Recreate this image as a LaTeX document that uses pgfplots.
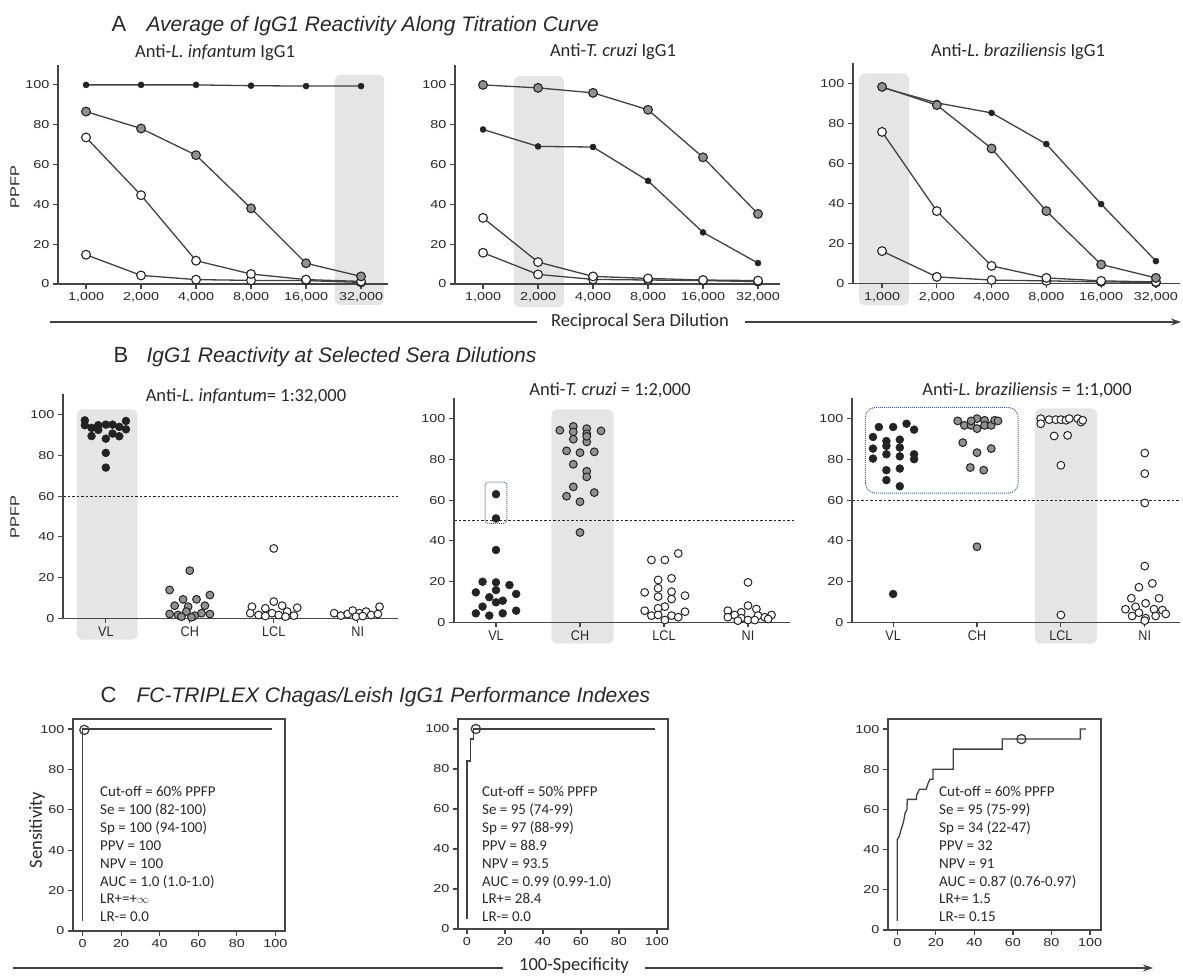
\documentclass[border=0pt]{standalone}
\usepackage{fontspec}
\setmainfont{Carlito}
\newfontfamily\arialf{Liberation Sans}
\newfontfamily\tickf[FakeStretch=1.25]{Liberation Sans}
\newfontfamily\catf[FakeStretch=0.9]{Liberation Sans}
\usepackage{pgfplots}
\pgfplotsset{compat=1.18}
\usetikzlibrary{arrows.meta}

\definecolor{axc}{RGB}{70,70,70}
\definecolor{lnc}{RGB}{65,65,65}
\definecolor{dk}{RGB}{35,35,35}
\definecolor{gr}{RGB}{145,145,145}
\definecolor{shd}{RGB}{229,229,229}
\definecolor{bl}{RGB}{70,100,140}
\definecolor{txt}{RGB}{40,40,40}

\newcommand{\tickfont}{\tickf\fontsize{11.5}{12}\selectfont}

\pgfplotsset{
 base/.style={axis on top, scale only axis, clip=false, tick align=outside, major tick length=5pt,
   axis line style={line width=1.3pt, draw=axc}, tick style={line width=1.2pt, draw=axc},
   tick label style={font=\tickfont, text=txt}, /pgf/number format/assume math mode=true,
   ytick={0,20,40,60,80,100}},
 Aax/.style={base, axis lines*=left, ymin=0, ymax=110, xtick={0,1,2,3,4,5},
   xticklabels={{1,000},{2,000},{4,000},{8,000},{16,000},{32,000}}, height=219pt},
 Bax/.style={base, axis lines*=left, ymin=0, ymax=110, xtick={0,1,2,3},
   xticklabels={VL,CH,LCL,NI}, height=224pt,
   xticklabel style={font=\catf\fontsize{14}{14}\selectfont}},
 Cax/.style={base, tick pos=left, ymin=0, ymax=105, xtick={0,20,40,60,80,100}},
 lineblack/.style={line width=1.3pt, draw=lnc, mark=*, mark size=3pt, mark options={fill=dk, draw=dk, line width=0.5pt}},
 linegray/.style={line width=1.3pt, draw=lnc, mark=*, mark size=4.4pt, mark options={fill=gr, draw=dk, line width=1.1pt}},
 linewhite/.style={line width=1.3pt, draw=lnc, mark=*, mark size=4.4pt, mark options={fill=white, draw=dk, line width=1.1pt}},
 ptblack/.style={only marks, mark=*, mark size=3.9pt, mark options={fill=dk, draw=dk, line width=0.6pt}},
 ptgray/.style={only marks, mark=*, mark size=3.9pt, mark options={fill=gr, draw=dk, line width=1pt}},
 ptwhite/.style={only marks, mark=*, mark size=3.9pt, mark options={fill=white, draw=dk, line width=1pt}},
 roc/.style={line width=1.3pt, draw=lnc, mark=none},
 cut/.style={only marks, mark=o, mark size=4.6pt, mark options={draw=lnc, line width=1.3pt}},
 dashln/.style={line width=1.2pt, draw=dk, dash pattern=on 2.5pt off 2pt, mark=none},
}

\begin{document}
\begin{tikzpicture}[x=1pt,y=1pt]
\path[use as bounding box] (0,0) rectangle (1183,976);

% ================= Row A =================
\begin{axis}[Aax, at={(58pt,692pt)}, anchor=south west, width=330pt, xmin=-0.51, xmax=5.49]
\fill[shd, rounded corners=6pt] (axis cs:4.52,-10.5) rectangle (axis cs:5.42,105);
\addplot[linewhite] coordinates {(0,14.7)(1,4.3)(2,2.2)(3,1.8)(4,1.7)(5,0.8)};
\addplot[linewhite] coordinates {(0,73.6)(1,44.6)(2,11.7)(3,5.0)(4,2.2)(5,1.3)};
\addplot[linegray] coordinates {(0,86.6)(1,78.1)(2,64.7)(3,38.0)(4,10.4)(5,3.8)};
\addplot[lineblack] coordinates {(0,100)(1,100)(2,100)(3,99.6)(4,99.4)(5,99.4)};
\end{axis}

\begin{axis}[Aax, at={(455pt,692pt)}, anchor=south west, width=325pt, xmin=-0.51, xmax=5.40]
\fill[shd, rounded corners=6pt] (axis cs:0.56,-11.5) rectangle (axis cs:1.47,104.5);
\addplot[linewhite] coordinates {(0,15.7)(1,4.8)(2,2.3)(3,2.0)(4,1.7)(5,1.2)};
\addplot[linewhite] coordinates {(0,33.2)(1,11.0)(2,3.8)(3,2.8)(4,2.0)(5,1.7)};
\addplot[lineblack] coordinates {(0,77.6)(1,69.1)(2,68.8)(3,51.8)(4,25.9)(5,10.5)};
\addplot[linegray] coordinates {(0,100)(1,98.5)(2,96)(3,87.5)(4,63.6)(5,35.2)};
\end{axis}

\begin{axis}[Aax, at={(853pt,692.5pt)}, anchor=south west, width=327pt, height=220pt, xmin=-0.53, xmax=5.44]
\fill[shd, rounded corners=6pt] (axis cs:-0.42,-11) rectangle (axis cs:0.49,105);
\addplot[linewhite] coordinates {(0,16.2)(1,3.3)(2,1.7)(3,1.3)(4,0.8)(5,0.5)};
\addplot[linewhite] coordinates {(0,75.8)(1,36.2)(2,8.8)(3,2.8)(4,1.3)(5,0.8)};
\addplot[lineblack] coordinates {(0,98)(1,90.3)(2,85.3)(3,69.7)(4,39.7)(5,11.2)};
\addplot[linegray] coordinates {(0,98.3)(1,89.2)(2,67.5)(3,36.2)(4,9.5)(5,2.8)};
\end{axis}

% ================= Row B =================
\begin{axis}[Bax, at={(63pt,357.7pt)}, anchor=south west, width=335pt, xmin=-0.51, xmax=3.48]
\fill[shd, rounded corners=6pt] (axis cs:-0.345,-10.5) rectangle (axis cs:0.38,102.6);
\addplot[dashln] coordinates {(-0.51,60)(3.48,60)};
\addplot[ptblack] coordinates {(-0.25,97.2)(-0.25,94.8)(-0.17,89.5)(-0.17,93.5)(-0.09,94.8)(-0.09,92.5)(0,95.1)(0,88.2)(0.08,95.1)(0.08,90.7)(0.16,89.4)(0.16,94)(0.24,96.9)(0.24,92.8)(0,81.2)(0,74)};
\addplot[ptgray] coordinates {(0.76,13.9)(1.00,23.4)(0.92,9.3)(1.08,9.3)(1.24,11.4)(0.82,6.2)(0.98,5.7)(1.18,6.2)(0.76,2.1)(0.86,1.6)(0.96,3.3)(1.06,1.3)(1.14,2.5)(1.24,2.1)(0.90,0.8)(1.02,0.5)};
\addplot[ptwhite] coordinates {(2.00,34.3)(2.00,8.2)(1.74,5.7)(1.90,4.9)(2.10,6.2)(2.28,5.2)(1.72,2.5)(1.82,1.6)(1.98,2.5)(2.06,1.6)(2.16,3.3)(2.24,1.3)(1.90,1.1)(2.14,0.8)};
\addplot[ptwhite] coordinates {(2.72,2.5)(2.80,1.3)(2.88,2.1)(2.94,3.8)(3.02,2.5)(3.10,3.3)(3.16,1.6)(3.26,5.7)(3.24,2.1)(2.98,0.8)(3.06,1.1)};
\end{axis}

\begin{axis}[Bax, at={(454pt,353.7pt)}, anchor=south west, width=336pt, xmin=-0.5, xmax=3.5]
\fill[shd, rounded corners=6pt] (axis cs:0.66,-10.5) rectangle (axis cs:1.40,104.6);
\addplot[dashln] coordinates {(-0.5,50)(3.55,50)};
\draw[bl, line width=1pt, densely dotted, rounded corners=3pt] (axis cs:-0.13,48.6) rectangle (axis cs:0.13,68.8);
\addplot[ptblack] coordinates {(0,62.9)(0,51)(0,35.5)(-0.16,19.9)(0,19.6)(0.16,18.3)(-0.24,14.7)(0,15.8)(0.24,13.9)(-0.08,12.3)(0.08,10.6)(0,9.8)(-0.16,7.7)(-0.24,4.4)(-0.08,3.3)(0.08,4.4)(0.24,5.7)};
\addplot[ptgray] coordinates {(0.76,94.3)(0.92,96.2)(0.92,93.5)(1.08,95.1)(1.08,92.6)(1.25,94.0)(0.92,89.9)(1.08,88.6)(0.84,84.2)(1.00,83.3)(1.17,83.7)(0.92,77.6)(1.08,74.2)(1.08,71.4)(0.92,66.5)(0.84,61.9)(1.00,59.2)(1.17,63.7)(1.00,44.1)(1.08,91.3)};
\addplot[ptwhite] coordinates {(1.85,30.6)(2.01,30.6)(2.17,33.8)(1.93,20.8)(2.09,21.6)(1.93,16.7)(1.77,14.7)(2.09,15.0)(1.93,12.6)(2.09,11.4)(2.25,13.1)(2.01,7.7)(1.93,6.9)(1.77,5.7)(2.25,5.2)(1.85,3.3)(2.09,3.3)(2.01,1.1)(2.17,2.5)(1.93,3.6)};
\addplot[ptwhite] coordinates {(3.00,19.6)(3.00,8.2)(2.76,5.7)(2.92,4.9)(3.10,6.5)(2.84,3.6)(3.12,3.3)(3.28,3.6)(2.76,2.5)(2.92,2.0)(3.00,1.1)(3.08,1.1)(3.20,2.5)(3.24,1.6)(2.88,0.8)};
\end{axis}

\begin{axis}[Bax, at={(852pt,353.7pt)}, anchor=south west, width=328pt, xmin=-0.49, xmax=3.42]
\fill[shd, rounded corners=6pt] (axis cs:1.69,-10.5) rectangle (axis cs:2.43,105);
\addplot[dashln] coordinates {(-0.49,60)(3.42,60)};
\draw[bl, line width=1pt, densely dotted, rounded corners=10pt] (axis cs:-0.33,63.4) rectangle (axis cs:1.49,105.5);
\addplot[ptblack] coordinates {(-0.17,95.9)(0,95.9)(0.16,97.5)(0.25,94.6)(-0.24,91)(-0.08,89)(0.08,89.7)(-0.24,85.3)(-0.08,86.6)(0.08,85.8)(-0.24,80.4)(-0.08,82.5)(0.08,81.5)(0.25,82.5)(0.25,80.1)(-0.08,74.7)(0.08,75.5)(-0.08,69.8)(0.08,66.8)(0,13.9)};
\addplot[ptgray] coordinates {(0.77,98.9)(0.85,96.7)(0.93,96.7)(1.00,100)(1.00,95.1)(1.09,99.2)(1.09,96.7)(1.17,96.7)(1.21,99.2)(1.25,98.9)(0.93,98.9)(0.83,88.2)(1.00,83.3)(1.17,85.3)(0.92,76)(1.08,74.7)(1.00,37.1)};
\addplot[ptwhite] coordinates {(1.76,100)(1.76,97.5)(1.86,99.5)(1.94,99.5)(2.00,99.5)(2.06,99.2)(2.10,100)(2.20,100)(2.24,98.3)(2.26,99.2)(1.92,91.5)(2.08,91.8)(2.00,77.1)(2.00,3.6)};
\addplot[ptwhite] coordinates {(3.00,83.1)(3.00,73)(3.00,58.6)(3.00,27.6)(3.09,19.1)(2.93,17.2)(2.84,11.8)(3.17,11.8)(3.01,9.3)(2.77,6.4)(2.89,7.6)(3.11,6.4)(2.93,4.7)(3.21,6.0)(2.85,3.1)(3.01,2.0)(3.13,3.1)(3.25,4.1)(3.00,0.8)};
\end{axis}

% ================= Row C =================
\begin{axis}[Cax, at={(73pt,45pt)}, anchor=south west, width=212pt, height=212pt, xmin=-5, xmax=105]
\addplot[roc] coordinates {(0,5)(0,100)(98,100)};
\addplot[cut] coordinates {(0.9,99.6)};
\end{axis}

\begin{axis}[Cax, at={(458pt,47pt)}, anchor=south west, width=210pt, height=210pt, xmin=-4.7, xmax=105.8]
\addplot[roc] coordinates {(0,5)(0,84)(1.8,84)(1.8,95)(3.5,95)(3.5,100)(99,100)};
\addplot[cut] coordinates {(4.7,100)};
\end{axis}

\begin{axis}[Cax, at={(888pt,46pt)}, anchor=south west, width=213pt, height=211pt, xmin=-4.8, xmax=105.7]
\addplot[roc] coordinates {(0,4.5)(0,45)(1,46.5)(2,50)(3,53)(3.5,55)(4,58)(5,60)(5.2,65)(10,65)(10,67)(11.5,70)(15,70)(16,73)(17,75)(18.5,75)(18.5,80)(29,80)(29,90)(54.5,90)(54.5,95)(95,95)(95,100)(98,100)};
\addplot[cut] coordinates {(64.4,95)};
\end{axis}

% ================= Texts =================
\begin{scope}[text=txt]
\node[anchor=base west, font=\arialf\fontsize{22}{24}\selectfont] at (108,944) {A};
\node[anchor=base west, font=\arialf\itshape\fontsize{21}{24}\selectfont] at (143,944) {Average of IgG1 Reactivity Along Titration Curve};
\node[anchor=base west, font=\arialf\fontsize{22}{24}\selectfont] at (110,613) {B};
\node[anchor=base west, font=\arialf\itshape\fontsize{21}{24}\selectfont] at (143,613) {IgG1 Reactivity at Selected Sera Dilutions};
\node[anchor=base west, font=\arialf\fontsize{22}{24}\selectfont] at (97,273) {C};
\node[anchor=base west, font=\arialf\itshape\fontsize{21}{24}\selectfont] at (133,273) {FC-TRIPLEX Chagas/Leish IgG1 Performance Indexes};

\node[font=\fontsize{18.5}{20}\selectfont] at (215,923) {Anti-\textit{L. infantum} IgG1};
\node[font=\fontsize{18.5}{20}\selectfont] at (613,924) {Anti-\textit{T. cruzi} IgG1};
\node[font=\fontsize{18.5}{20}\selectfont] at (1018,924) {Anti-\textit{L. braziliensis} IgG1};
\node[font=\fontsize{18.5}{20}\selectfont] at (246,580) {Anti-\textit{L. infantum}= 1:32,000};
\node[font=\fontsize{18.5}{20}\selectfont] at (610,586) {Anti-\textit{T. cruzi} = 1:2,000};
\node[font=\fontsize{18.5}{20}\selectfont] at (1027,586) {Anti-\textit{L. braziliensis} = 1:1,000};

\node[rotate=90, font=\tickf\fontsize{13}{14}\selectfont] at (15,789) {PPFP};
\node[rotate=90, font=\tickf\fontsize{13}{14}\selectfont] at (15,459) {PPFP};
\node[rotate=90, font=\fontsize{18.5}{20}\selectfont] at (37,146) {Sensitivity};

\node[anchor=north west, inner sep=0pt, align=left, font=\fontsize{15}{17.9}\selectfont] at (100,190)
 {Cut-off = 60\% PPFP\\Se = 100 (82-100)\\Sp = 100 (94-100)\\PPV = 100\\NPV = 100\\AUC = 1.0 (1.0-1.0)\\LR+=+{\fontsize{12}{12}\selectfont$\infty$}\\LR-= 0.0};
\node[anchor=north west, inner sep=0pt, align=left, font=\fontsize{15}{17.9}\selectfont] at (482,190)
 {Cut-off = 50\% PPFP\\Se = 95 (74-99)\\Sp = 97 (88-99)\\PPV = 88.9\\NPV = 93.5\\AUC = 0.99 (0.99-1.0)\\LR+= 28.4\\LR-= 0.0};
\node[anchor=north west, inner sep=0pt, align=left, font=\fontsize{15}{17.9}\selectfont] at (939,190)
 {Cut-off = 60\% PPFP\\Se = 95 (75-99)\\Sp = 34 (22-47)\\PPV = 32\\NPV = 91\\AUC = 0.87 (0.76-0.97)\\LR+= 1.5\\LR-= 0.15};

\node[font=\fontsize{18.5}{20}\selectfont] at (640,654) {Reciprocal Sera Dilution};
\node[font=\fontsize{18.5}{20}\selectfont] at (574,10) {100-Specificity};
\end{scope}

\draw[line width=1.4pt, lnc] (50,654) -- (537,654);
\draw[line width=1.4pt, lnc, -{Stealth[length=10pt,width=7pt]}] (745,654) -- (1181,654);
\draw[line width=1.4pt, lnc] (13,8) -- (503,8);
\draw[line width=1.4pt, lnc, -{Stealth[length=10pt,width=7pt]}] (645,8) -- (1153,8);
\end{tikzpicture}
\end{document}
